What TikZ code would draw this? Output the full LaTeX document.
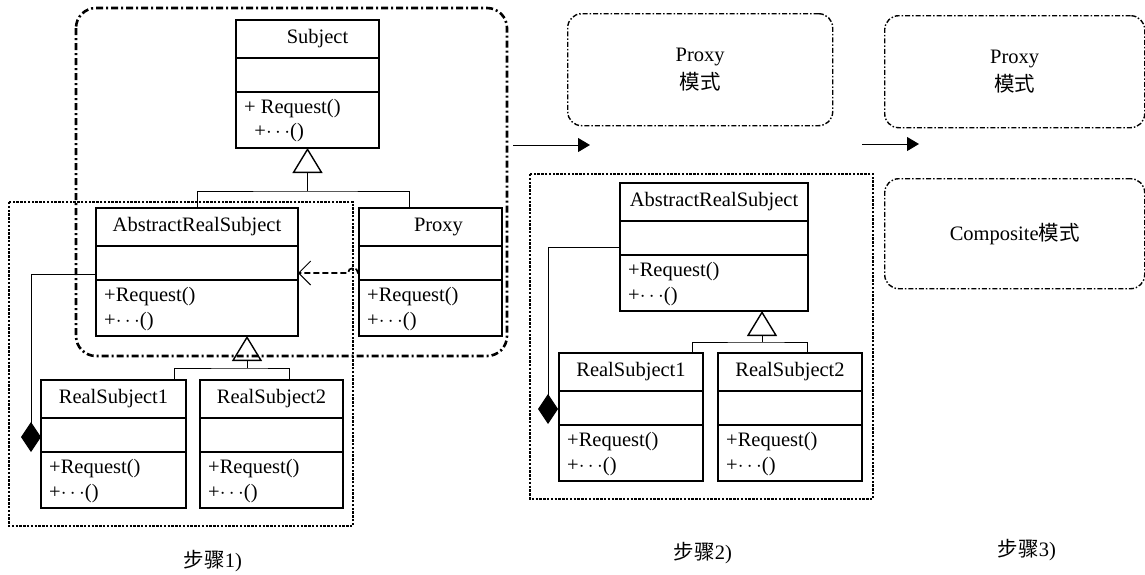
\documentclass[tikz,border=0pt]{standalone}
\usepackage{fontspec}
\setmainfont{Liberation Serif}
\newfontfamily\cjk{Noto Sans CJK SC}
\usetikzlibrary{arrows.meta}

\tikzset{
  umlbox/.style={draw, line width=1.4pt, minimum height=128pt, inner sep=0pt, outer sep=0pt, anchor=north west},
  umlline/.style={line width=1.4pt},
  umlops/.style={anchor=north west, align=left, inner xsep=8pt, inner ysep=7pt},
  inh/.style={line width=1pt, {Triangle[open, length=25pt, width=30pt, line width=1.4pt]}-},
  comp/.style={line width=1pt, -{Diamond[length=30pt, width=20pt]}},
  dep/.style={line width=1.7pt, dash pattern=on 6pt off 3pt, -{Straight Barb[length=12pt, width=24pt, line width=1pt]}},
  stepgrp/.style={line width=2.6pt, dash pattern=on 2.4pt off 1.4pt},
  modegrp/.style={line width=2.6pt, dash pattern=on 7pt off 3pt on 2pt off 3pt, rounded corners=20pt},
  modebox/.style={draw, line width=1.4pt, dash pattern=on 5pt off 2pt on 1.5pt off 2pt, rounded corners=14pt, anchor=north west, align=center, inner sep=0pt},
  nextstep/.style={line width=1pt, -{Triangle[length=12pt, width=14pt]}},
}

% class box: [title shift]{name}{north west corner}{width}{title}{operations}
\newcommand{\umlclass}[6][0]{%
  \node[umlbox, minimum width=#4] (#2) at #3 {};
  \draw[umlline] ([yshift=-38pt]#2.north west) -- ([yshift=-38pt]#2.north east)
                 ([yshift=-72pt]#2.north west) -- ([yshift=-72pt]#2.north east);
  \node at ([xshift=#1, yshift=-19pt]#2.north) {#5};
  \node[umlops] at ([yshift=-72pt]#2.north west) {#6};
}

\begin{document}
\begin{tikzpicture}[x=1pt, y=-1pt, font=\fontsize{20.5pt}{25pt}\selectfont]
\useasboundingbox (0,0) rectangle (1145,574);

% step 1
\umlclass[10]{subj}{(236,20)}{143}{Subject}{+ Request()\\[-1pt]\ \ +$\cdots$()}
\umlclass{ars}{(96,208)}{202}{AbstractRealSubject}{+Request()\\+$\cdots$()}
\umlclass[8]{prx}{(359,208)}{143}{Proxy}{+Request()\\+$\cdots$()}
\umlclass{rs1}{(41,380)}{145}{RealSubject1}{+Request()\\+$\cdots$()}
\umlclass{rs2}{(200,380)}{143}{RealSubject2}{+Request()\\+$\cdots$()}

\draw[modegrp] (76,8) rectangle (507,356);
\draw[stepgrp] (9,202) rectangle (353,526);

\draw[inh] (subj.south) -- ++(0,43) coordinate (t1);
\draw[line width=1pt] (ars.north) |- (t1) -| ([xshift=-21pt]prx.north);
\draw[inh] ([xshift=50pt]ars.south) -- ++(0,32) coordinate (t2);
\draw[line width=1pt] ([xshift=-12pt]rs1.north east) |- (t2) -| ([xshift=-54pt]rs2.north east);
\draw[comp] ([yshift=-66pt]ars.north west) -| ([xshift=-10pt, yshift=56pt]rs1.south west);
\draw[dep] ([yshift=-65pt]prx.north west) -- ++(-1,0) arc[start angle=0, end angle=-180, radius=5]
           -- ([yshift=-65pt]ars.north east);

\node (lbl1) at (213,561) {{\cjk 步骤}1)};

% step 2
\coordinate (a1) at (513,145);
\coordinate (b1) at (590,145);
\draw[nextstep] (a1) -- (b1);

\node[modebox, minimum width=265pt, minimum height=112pt] (pmode1) at (567,13) {Proxy\\[3pt]{\cjk 模式}};

\umlclass{ars2}{(620,183)}{188}{AbstractRealSubject}{+Request()\\+$\cdots$()}
\umlclass{rs3}{(559,353)}{144}{RealSubject1}{+Request()\\+$\cdots$()}
\umlclass{rs4}{(718,353)}{144}{RealSubject2}{+Request()\\+$\cdots$()}

\draw[stepgrp] (530,174) rectangle (873,499);

\draw[inh] ([xshift=48pt]ars2.south) -- ++(0,31) coordinate (t3);
\draw[line width=1pt] ([xshift=-11pt]rs3.north east) |- (t3) -| ([xshift=-55pt]rs4.north east);
\draw[comp] ([yshift=-64pt]ars2.north west) -| ([xshift=-11pt, yshift=57pt]rs3.south west);

\node (lbl2) at (703,553) {{\cjk 步骤}2)};

% step 3
\coordinate (a2) at (862,144);
\coordinate (b2) at (919,144);
\draw[nextstep] (a2) -- (b2);

\node[modebox, minimum width=260pt, minimum height=112pt] (pmode2) at (884,15) {Proxy\\[3pt]{\cjk 模式}};
\node[modebox, minimum width=260pt, minimum height=110pt] (cmode) at (884,178) {Composite{\cjk 模式}};

\node (lbl3) at (1027,550) {{\cjk 步骤}3)};
\end{tikzpicture}
\end{document}
